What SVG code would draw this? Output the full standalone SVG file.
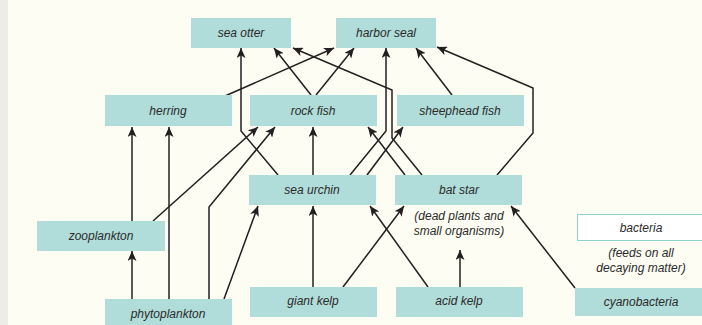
<svg xmlns="http://www.w3.org/2000/svg" width="702" height="325" viewBox="0 0 702 325">
<defs>
<style>
.bg{fill:#fdfdf4}
.node rect{fill:#b0dcd9}
.node text, .note{font-family:"Liberation Sans",Arial,sans-serif;font-style:italic;font-size:12px;fill:#2b2b2b;text-anchor:middle}
.conn path{fill:none;stroke:#231f20;stroke-width:1.5;marker-end:url(#ah)}
</style>
<marker id="ah" viewBox="0 0 10 9" refX="10" refY="4.5" markerWidth="10" markerHeight="9" markerUnits="userSpaceOnUse" orient="auto">
<path d="M0,0 L10,4.5 L0,9 L2.5,4.5 z" fill="#231f20"/>
</marker>
</defs>
<rect class="bg" x="0" y="0" width="702" height="325"/>
<rect x="0" y="0" width="8" height="325" fill="#edece9"/>

<g class="conn">
<path d="M278,175 L241,131 L241,48"/>
<path d="M311,95 L274,48"/>
<path d="M316,95 L354,48"/>
<path d="M225,96 L334,48"/>
<path d="M422,175 L392,138 L392,90 L293,48"/>
<path d="M350,175 L386,131 L386,48"/>
<path d="M452,95 L416,48"/>
<path d="M497,175 L533,133 L533,88 L437,47"/>
<path d="M153,221 L258,127"/>
<path d="M209,299 L209,207 L275,127"/>
<path d="M313,175 L313,127"/>
<path d="M405,175 L368,127"/>
<path d="M367,175 L403,127"/>
<path d="M132,221 L132,127"/>
<path d="M169,299 L169,127"/>
<path d="M132,299 L132,251"/>
<path d="M224,299 L258,206"/>
<path d="M313,287 L313,206"/>
<path d="M343,287 L404,206"/>
<path d="M428,287 L370,206"/>
<path d="M460,287 L460,250"/>
<path d="M575,288 L511,206"/>
</g>

<g id="sea-otter" class="node"><rect x="191" y="18" width="100" height="30"/><text x="241" y="37">sea otter</text></g>
<g id="harbor-seal" class="node"><rect x="336" y="18" width="100" height="30"/><text x="386" y="37">harbor seal</text></g>
<g id="herring" class="node"><rect x="105" y="95" width="127" height="31"/><text x="168" y="115">herring</text></g>
<g id="rock-fish" class="node"><rect x="250" y="95" width="127" height="31"/><text x="313" y="115">rock fish</text></g>
<g id="sheephead-fish" class="node"><rect x="397" y="95" width="127" height="31"/><text x="460" y="115">sheephead fish</text></g>
<g id="sea-urchin" class="node"><rect x="249" y="175" width="127" height="30"/><text x="312" y="194">sea urchin</text></g>
<g id="bat-star" class="node"><rect x="395" y="175" width="127" height="30"/><text x="459" y="194">bat star</text></g>
<text class="note" x="459" y="220">(dead plants and</text>
<text class="note" x="459" y="235">small organisms)</text>
<g id="zooplankton" class="node"><rect x="37" y="221" width="128" height="30"/><text x="101" y="240">zooplankton</text></g>
<g id="phytoplankton" class="node"><rect x="105" y="299" width="127" height="30"/><text x="168" y="318">phytoplankton</text></g>
<g id="giant-kelp" class="node"><rect x="250" y="287" width="127" height="30"/><text x="313" y="305">giant kelp</text></g>
<g id="acid-kelp" class="node"><rect x="396" y="287" width="127" height="30"/><text x="459" y="305">acid kelp</text></g>
<g id="cyanobacteria" class="node"><rect x="575" y="288" width="132" height="28"/><text x="641" y="306">cyanobacteria</text></g>
<g id="bacteria" class="node"><rect x="577.5" y="214.5" width="130" height="26" fill="#ffffff" style="fill:#ffffff;stroke:#8fd3cf;stroke-width:1"/><text x="641" y="232">bacteria</text></g>
<text class="note" x="641" y="257">(feeds on all</text>
<text class="note" x="641" y="272">decaying matter)</text>
</svg>
